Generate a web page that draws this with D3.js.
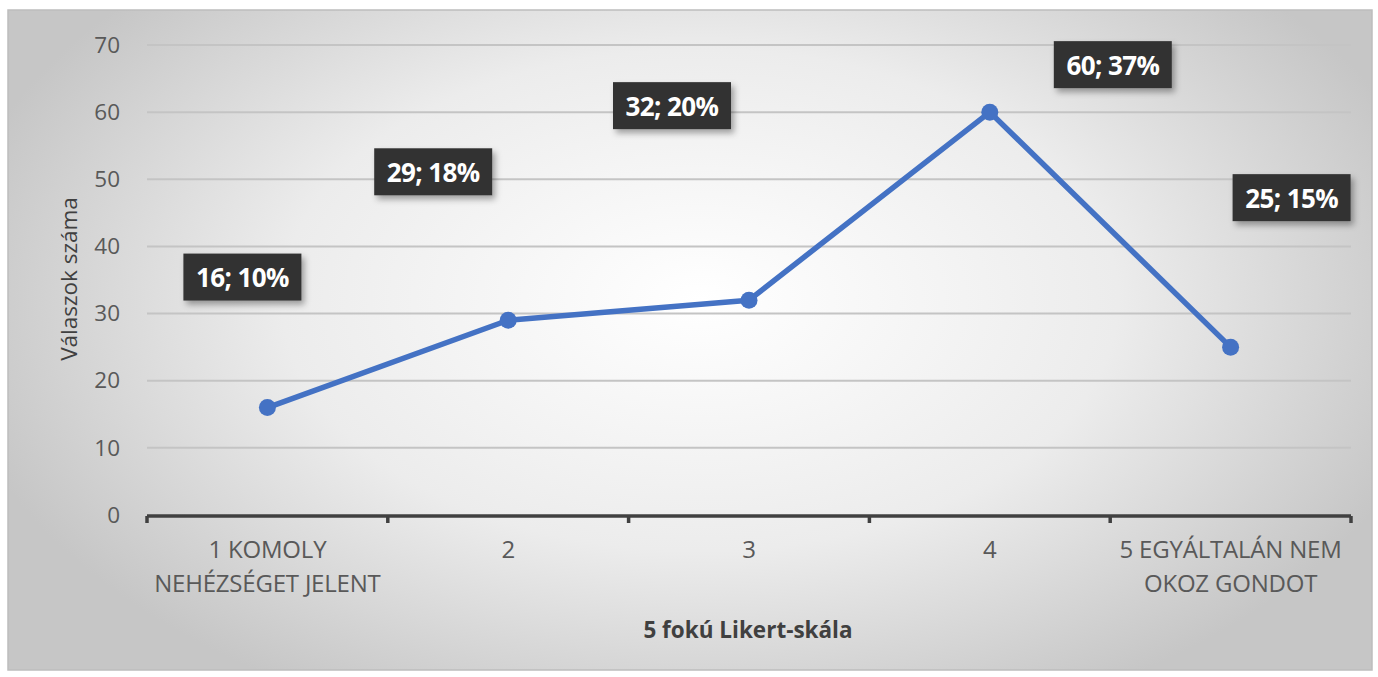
<!DOCTYPE html>
<html><head><meta charset="utf-8">
<script src="https://cdn.jsdelivr.net/npm/d3@7"></script>
<style>body{margin:0;background:#fff}svg{display:block}</style>
</head><body>
<svg id="c" width="1378" height="677"></svg>
<script>
const categories = [["1 KOMOLY","NEHÉZSÉGET JELENT"],["2"],["3"],["4"],["5 EGYÁLTALÁN NEM","OKOZ GONDOT"]];
const values = [16, 29, 32, 60, 25];
const percents = ["10%", "18%", "20%", "37%", "15%"];
const yTicks = [0, 10, 20, 30, 40, 50, 60, 70];
const xTitle = "5 fokú Likert-skála";
const yTitle = "Válaszok száma";

// layout: label offsets (px) from each point (manually placed in original)
const labelOffsets = [[-25,-130],[-75,-148],[-77,-194],[123,-47],[61,-149]];

const svg = d3.select("#c");
const m = {left:147, right:1351, top:45, bottom:515};
const font = "Open Sans, sans-serif";

const defs = svg.append("defs");
const rg = defs.append("radialGradient").attr("id","bg").attr("gradientUnits","userSpaceOnUse")
  .attr("cx",700).attr("cy",300).attr("r",760).attr("gradientTransform","translate(700,300) scale(1,0.6) translate(-700,-300)");
rg.append("stop").attr("offset","0").attr("stop-color","#ffffff");
rg.append("stop").attr("offset","0.55").attr("stop-color","#ececec");
rg.append("stop").attr("offset","1").attr("stop-color","#c6c6c6");
const f = defs.append("filter").attr("id","sh").attr("x","-20%").attr("y","-20%").attr("width","150%").attr("height","160%");
f.append("feDropShadow").attr("dx",3).attr("dy",4).attr("stdDeviation",3).attr("flood-color","#000").attr("flood-opacity",0.35);

svg.append("rect").attr("x",8).attr("y",10).attr("width",1364).attr("height",660)
  .attr("fill","url(#bg)").attr("stroke","#bdbdbd").attr("stroke-width",1.5);

const x = d3.scaleBand().domain(d3.range(categories.length)).range([m.left, m.right]);
const y = d3.scaleLinear().domain([0,70]).range([m.bottom, m.top]);

// gridlines
svg.append("g").selectAll("line").data(yTicks.filter(d=>d>0)).join("line")
  .attr("x1",m.left).attr("x2",m.right).attr("y1",d=>y(d)).attr("y2",d=>y(d))
  .attr("stroke","#c4c4c4").attr("stroke-width",2);

// y labels
const yAxis = svg.append("g").attr("transform",`translate(${m.left},0)`)
  .call(d3.axisLeft(y).tickValues(yTicks).tickSize(0).tickPadding(27));
yAxis.select(".domain").remove();
yAxis.selectAll("text").attr("font-family",font).attr("font-size",22.5).attr("fill","#595959");

// x axis
const xAxis = svg.append("g").attr("transform",`translate(0,${m.bottom+1})`);
xAxis.append("line").attr("x1",m.left).attr("x2",m.right).attr("stroke","#404040").attr("stroke-width",3.5);
const bounds = d3.range(categories.length+1).map(i => i<categories.length ? x(i) : x(i-1)+x.bandwidth());
xAxis.selectAll("line.t").data(bounds).join("line").attr("class","t")
  .attr("x1",d=>d).attr("x2",d=>d).attr("y1",0).attr("y2",7).attr("stroke","#404040").attr("stroke-width",3.5);
const cl = xAxis.selectAll("text.c").data(categories).join("text").attr("class","c")
  .attr("x",(d,i)=>x(i)+x.bandwidth()/2).attr("y",42)
  .attr("text-anchor","middle").attr("font-family",font).attr("font-size",24).attr("fill","#595959")
  .attr("letter-spacing",-0.2);
cl.selectAll("tspan").data(d=>d).join("tspan").attr("x",function(){return this.parentNode.getAttribute("x");})
  .attr("dy",(d,i)=>i?34:0).text(d=>d);

// titles
svg.append("text").attr("x",748).attr("y",638).attr("text-anchor","middle")
  .attr("font-family",font).attr("font-weight","bold").attr("font-size",22.5).attr("fill","#404040").text(xTitle);
svg.append("text").attr("transform","translate(77,279) rotate(-90)").attr("text-anchor","middle")
  .attr("font-family",font).attr("font-size",22.5).attr("fill","#404040").text(yTitle);

// line
const cx = i => x(i)+x.bandwidth()/2;
svg.append("path").datum(values).attr("fill","none").attr("stroke","#4472c4").attr("stroke-width",5.5)
  .attr("stroke-linejoin","round")
  .attr("d",d3.line().x((d,i)=>cx(i)).y(d=>y(d)));
svg.append("g").selectAll("circle").data(values).join("circle")
  .attr("cx",(d,i)=>cx(i)).attr("cy",d=>y(d)).attr("r",8.5).attr("fill","#4472c4");

// labels
const lg = svg.append("g").selectAll("g").data(values).join("g")
  .attr("transform",(d,i)=>`translate(${cx(i)+labelOffsets[i][0]},${y(d)+labelOffsets[i][1]})`);
lg.append("rect").attr("x",-59).attr("y",-24).attr("width",118).attr("height",47)
  .attr("fill","#333333").attr("filter","url(#sh)");
lg.append("text").attr("text-anchor","middle").attr("dy","0.36em")
  .attr("font-family",font).attr("font-weight","bold").attr("font-size",26).attr("fill","#fff")
  .attr("letter-spacing",-0.6)
  .text((d,i)=>`${d}; ${percents[i]}`);
</script>
</body></html>
